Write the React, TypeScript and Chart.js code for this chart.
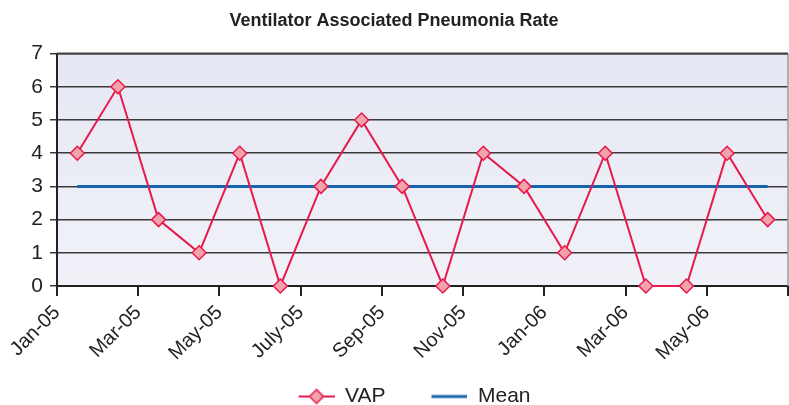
import React, { useEffect, useRef } from 'react';
import { Chart, registerables } from 'chart.js';

Chart.register(...registerables);

const months = ['Jan-05', 'Feb-05', 'Mar-05', 'Apr-05', 'May-05', 'Jun-05', 'July-05', 'Aug-05', 'Sep-05', 'Oct-05', 'Nov-05', 'Dec-05', 'Jan-06', 'Feb-06', 'Mar-06', 'Apr-06', 'May-06', 'Jun-06'];
const vapValues = [4, 6, 2, 1, 4, 0, 3, 5, 3, 0, 4, 3, 1, 4, 0, 0, 4, 2];
const meanValue = 3;
const xTickLabels = ['Jan-05', 'Mar-05', 'May-05', 'July-05', 'Sep-05', 'Nov-05', 'Jan-06', 'Mar-06', 'May-06'];
const yMin = 0;
const yMax = 7;

const FONT = "'Liberation Sans', Arial, Helvetica, sans-serif";
const VAP_COLOR = '#e8194c';
const VAP_FILL = '#f2a2aa';
const MEAN_COLOR = '#1764ae';
const TEXT_COLOR = '#222222';

const ICON_LEAD = 41;
const ICON_W = 36;

function makeVapIcon(): HTMLCanvasElement {
  const c = document.createElement('canvas');
  c.width = ICON_LEAD + ICON_W;
  c.height = 18;
  const ctx = c.getContext('2d')!;
  const x0 = ICON_LEAD;
  ctx.strokeStyle = VAP_COLOR;
  ctx.lineWidth = 2;
  ctx.beginPath();
  ctx.moveTo(x0, 9);
  ctx.lineTo(x0 + ICON_W, 9);
  ctx.stroke();
  const cx = x0 + ICON_W / 2;
  ctx.beginPath();
  ctx.moveTo(cx, 2);
  ctx.lineTo(cx + 7, 9);
  ctx.lineTo(cx, 16);
  ctx.lineTo(cx - 7, 9);
  ctx.closePath();
  ctx.fillStyle = VAP_FILL;
  ctx.fill();
  ctx.lineWidth = 1.5;
  ctx.stroke();
  return c;
}

function makeMeanIcon(): HTMLCanvasElement {
  const c = document.createElement('canvas');
  c.width = ICON_LEAD + ICON_W;
  c.height = 18;
  const ctx = c.getContext('2d')!;
  ctx.strokeStyle = MEAN_COLOR;
  ctx.lineWidth = 3;
  ctx.beginPath();
  ctx.moveTo(ICON_LEAD, 9);
  ctx.lineTo(ICON_LEAD + ICON_W, 9);
  ctx.stroke();
  return c;
}

const bgPlugin = {
  id: 'plotBg',
  beforeDraw(chart: any) {
    const { ctx, chartArea } = chart;
    if (!chartArea) return;
    const g = ctx.createLinearGradient(0, chartArea.top, 0, chartArea.bottom);
    g.addColorStop(0, '#e5e7f3');
    g.addColorStop(1, '#f1f2f8');
    ctx.save();
    ctx.fillStyle = g;
    ctx.fillRect(chartArea.left, chartArea.top, chartArea.right - chartArea.left, chartArea.bottom - chartArea.top);
    ctx.restore();
  },
  beforeDatasetsDraw(chart: any) {
    const { ctx, chartArea } = chart;
    ctx.save();
    ctx.strokeStyle = '#9a9a9a';
    ctx.lineWidth = 1.5;
    ctx.beginPath();
    ctx.moveTo(chartArea.right, chartArea.top);
    ctx.lineTo(chartArea.right, chartArea.bottom);
    ctx.stroke();
    ctx.strokeStyle = '#444';
    ctx.lineWidth = 2;
    ctx.beginPath();
    ctx.moveTo(chartArea.left, chartArea.top);
    ctx.lineTo(chartArea.right, chartArea.top);
    ctx.stroke();
    ctx.restore();
  },
};

export default function App() {
  const ref = useRef<HTMLCanvasElement | null>(null);

  useEffect(() => {
    if (!ref.current) return;
    const vapIcon = makeVapIcon();
    const meanIcon = makeMeanIcon();
    const vapData = vapValues.map((v, i) => ({ x: i + 0.5, y: v }));
    const meanData = months.map((_, i) => ({ x: i + 0.5, y: meanValue }));

    const chart = new Chart(ref.current, {
      type: 'line',
      data: {
        datasets: [
          {
            label: 'VAP',
            data: vapData,
            borderColor: VAP_COLOR,
            borderWidth: 2,
            backgroundColor: VAP_FILL,
            pointStyle: 'rectRot',
            pointRadius: 7,
            pointBorderWidth: 1.5,
            pointBorderColor: VAP_COLOR,
            pointBackgroundColor: VAP_FILL,
            tension: 0,
            clip: false,
            order: 1,
          },
          {
            label: 'Mean',
            data: meanData,
            borderColor: MEAN_COLOR,
            borderWidth: 3,
            pointRadius: 0,
            tension: 0,
            order: 2,
          },
        ],
      },
      options: {
        responsive: false,
        animation: false,
        layout: { autoPadding: false, padding: { left: 0, right: 1, top: 0, bottom: -12 } },
        plugins: {
          tooltip: { enabled: false },
          title: {
            display: true,
            text: 'Ventilator Associated Pneumonia Rate',
            color: TEXT_COLOR,
            font: { family: FONT, size: 18, weight: 'bold' },
            padding: { top: 10, bottom: 22 },
          },
          legend: {
            display: true,
            position: 'bottom',
            labels: {
              usePointStyle: true,
              pointStyleWidth: ICON_LEAD + ICON_W,
              padding: 5,
              color: TEXT_COLOR,
              font: { family: FONT, size: 21 },
              generateLabels: () => [
                { text: 'VAP', pointStyle: vapIcon as any, fillStyle: VAP_FILL, strokeStyle: VAP_COLOR, lineWidth: 0, datasetIndex: 0, hidden: false, fontColor: TEXT_COLOR },
                { text: 'Mean', pointStyle: meanIcon as any, fillStyle: MEAN_COLOR, strokeStyle: MEAN_COLOR, lineWidth: 0, datasetIndex: 1, hidden: false, fontColor: TEXT_COLOR },
              ],
            },
          },
        },
        scales: {
          x: {
            type: 'linear',
            min: 0,
            max: months.length,
            afterFit: (s: any) => {
              s.height = 95;
              s.paddingRight = 0;
              s.paddingLeft = 0;
            },
            afterBuildTicks: (s: any) => {
              const ticks = [];
              for (let i = 0; i <= months.length; i += 2) ticks.push({ value: i });
              s.ticks = ticks;
            },
            ticks: {
              autoSkip: false,
              maxRotation: 45,
              minRotation: 45,
              padding: 5,
              color: TEXT_COLOR,
              font: { family: FONT, size: 20 },
              callback: (v: any) => xTickLabels[Math.round(Number(v) / 2)] ?? '',
            },
            grid: {
              drawOnChartArea: false,
              drawTicks: true,
              tickLength: 10,
              color: '#222',
              lineWidth: 2,
            },
            border: { display: true, color: '#222', width: 2 },
          },
          y: {
            min: yMin,
            max: yMax,
            afterFit: (s: any) => { s.width = 57; },
            ticks: {
              stepSize: 1,
              padding: 7,
              color: TEXT_COLOR,
              font: { family: FONT, size: 21 },
            },
            grid: {
              color: '#3a3a3a',
              lineWidth: 1.5,
              drawTicks: true,
              tickLength: 7,
            },
            border: { display: true, color: '#222', width: 2 },
          },
        },
      },
      plugins: [bgPlugin],
    } as any);

    return () => chart.destroy();
  }, []);

  return (
    <div style={{ position: 'absolute', left: 0, top: 0, width: 789, height: 405 }}>
      <canvas ref={ref} width={789} height={405} style={{ display: 'block' }} />
    </div>
  );
}
